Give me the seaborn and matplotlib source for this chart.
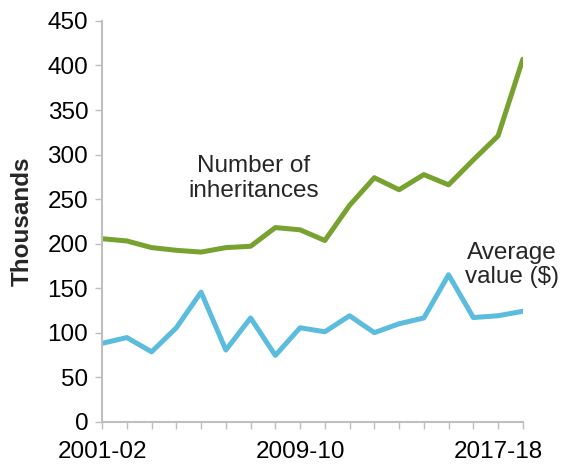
import pandas as pd
import seaborn as sns
import matplotlib.pyplot as plt

years = ['2001-02', '2002-03', '2003-04', '2004-05', '2005-06', '2006-07',
         '2007-08', '2008-09', '2009-10', '2010-11', '2011-12', '2012-13',
         '2013-14', '2014-15', '2015-16', '2016-17', '2017-18', '2018-19']
number_of_inheritances = [205.5, 203, 195.5, 192.5, 190.5, 195.5, 197, 218,
                          215.5, 203.5, 243, 274, 260.5, 277.5, 266, 294, 321, 407]
average_value = [88, 94.5, 78.5, 105.5, 145.5, 80.5, 116.5, 74.5, 105.5,
                 101, 119, 100, 110, 116.5, 165, 117, 119, 124]
shown_labels = ['2001-02', '2009-10', '2017-18']

df = pd.DataFrame({'Year': years,
                   'Number': number_of_inheritances,
                   'Average': average_value})
df['idx'] = range(len(df))

sns.set_style('white')
plt.rcParams['font.family'] = ['Liberation Sans', 'DejaVu Sans']

fig = plt.figure(figsize=(5.64, 4.66), dpi=100)
ax = fig.add_axes([0.181, 0.095, 0.746, 0.86])

sns.lineplot(data=df, x='idx', y='Number', color='#77A22F', linewidth=3.6, ax=ax)
sns.lineplot(data=df, x='idx', y='Average', color='#5BBCDE', linewidth=3.6, ax=ax)

ax.set_xlim(0, len(years) - 1)
ax.set_ylim(0, 450)
ax.set_yticks(range(0, 451, 50))
ax.set_xticks(df['idx'])
ax.set_xticklabels([y if y in shown_labels else '' for y in years])
ax.tick_params(axis='both', labelsize=17.5, colors='#BFBFBF', labelcolor='black',
               length=5, width=1, direction='out', left=True, bottom=True)
ax.tick_params(axis='x', pad=9)
ax.tick_params(axis='y', pad=5)

for side in ['top', 'right']:
    ax.spines[side].set_visible(False)
for side in ['left', 'bottom']:
    ax.spines[side].set_color('#BFBFBF')
    ax.spines[side].set_linewidth(1.5)

ax.set_xlabel('')
ax.set_ylabel('Thousands', fontsize=17.5, fontweight='bold', labelpad=10)

ax.text(6.14, 273, 'Number of\ninheritances', fontsize=17.5, ha='center', va='center',
        linespacing=1.15)
ax.text(16.55, 176, 'Average\nvalue ($)', fontsize=17.5, ha='center', va='center',
        linespacing=1.15)

plt.savefig('out.png', dpi=100)
